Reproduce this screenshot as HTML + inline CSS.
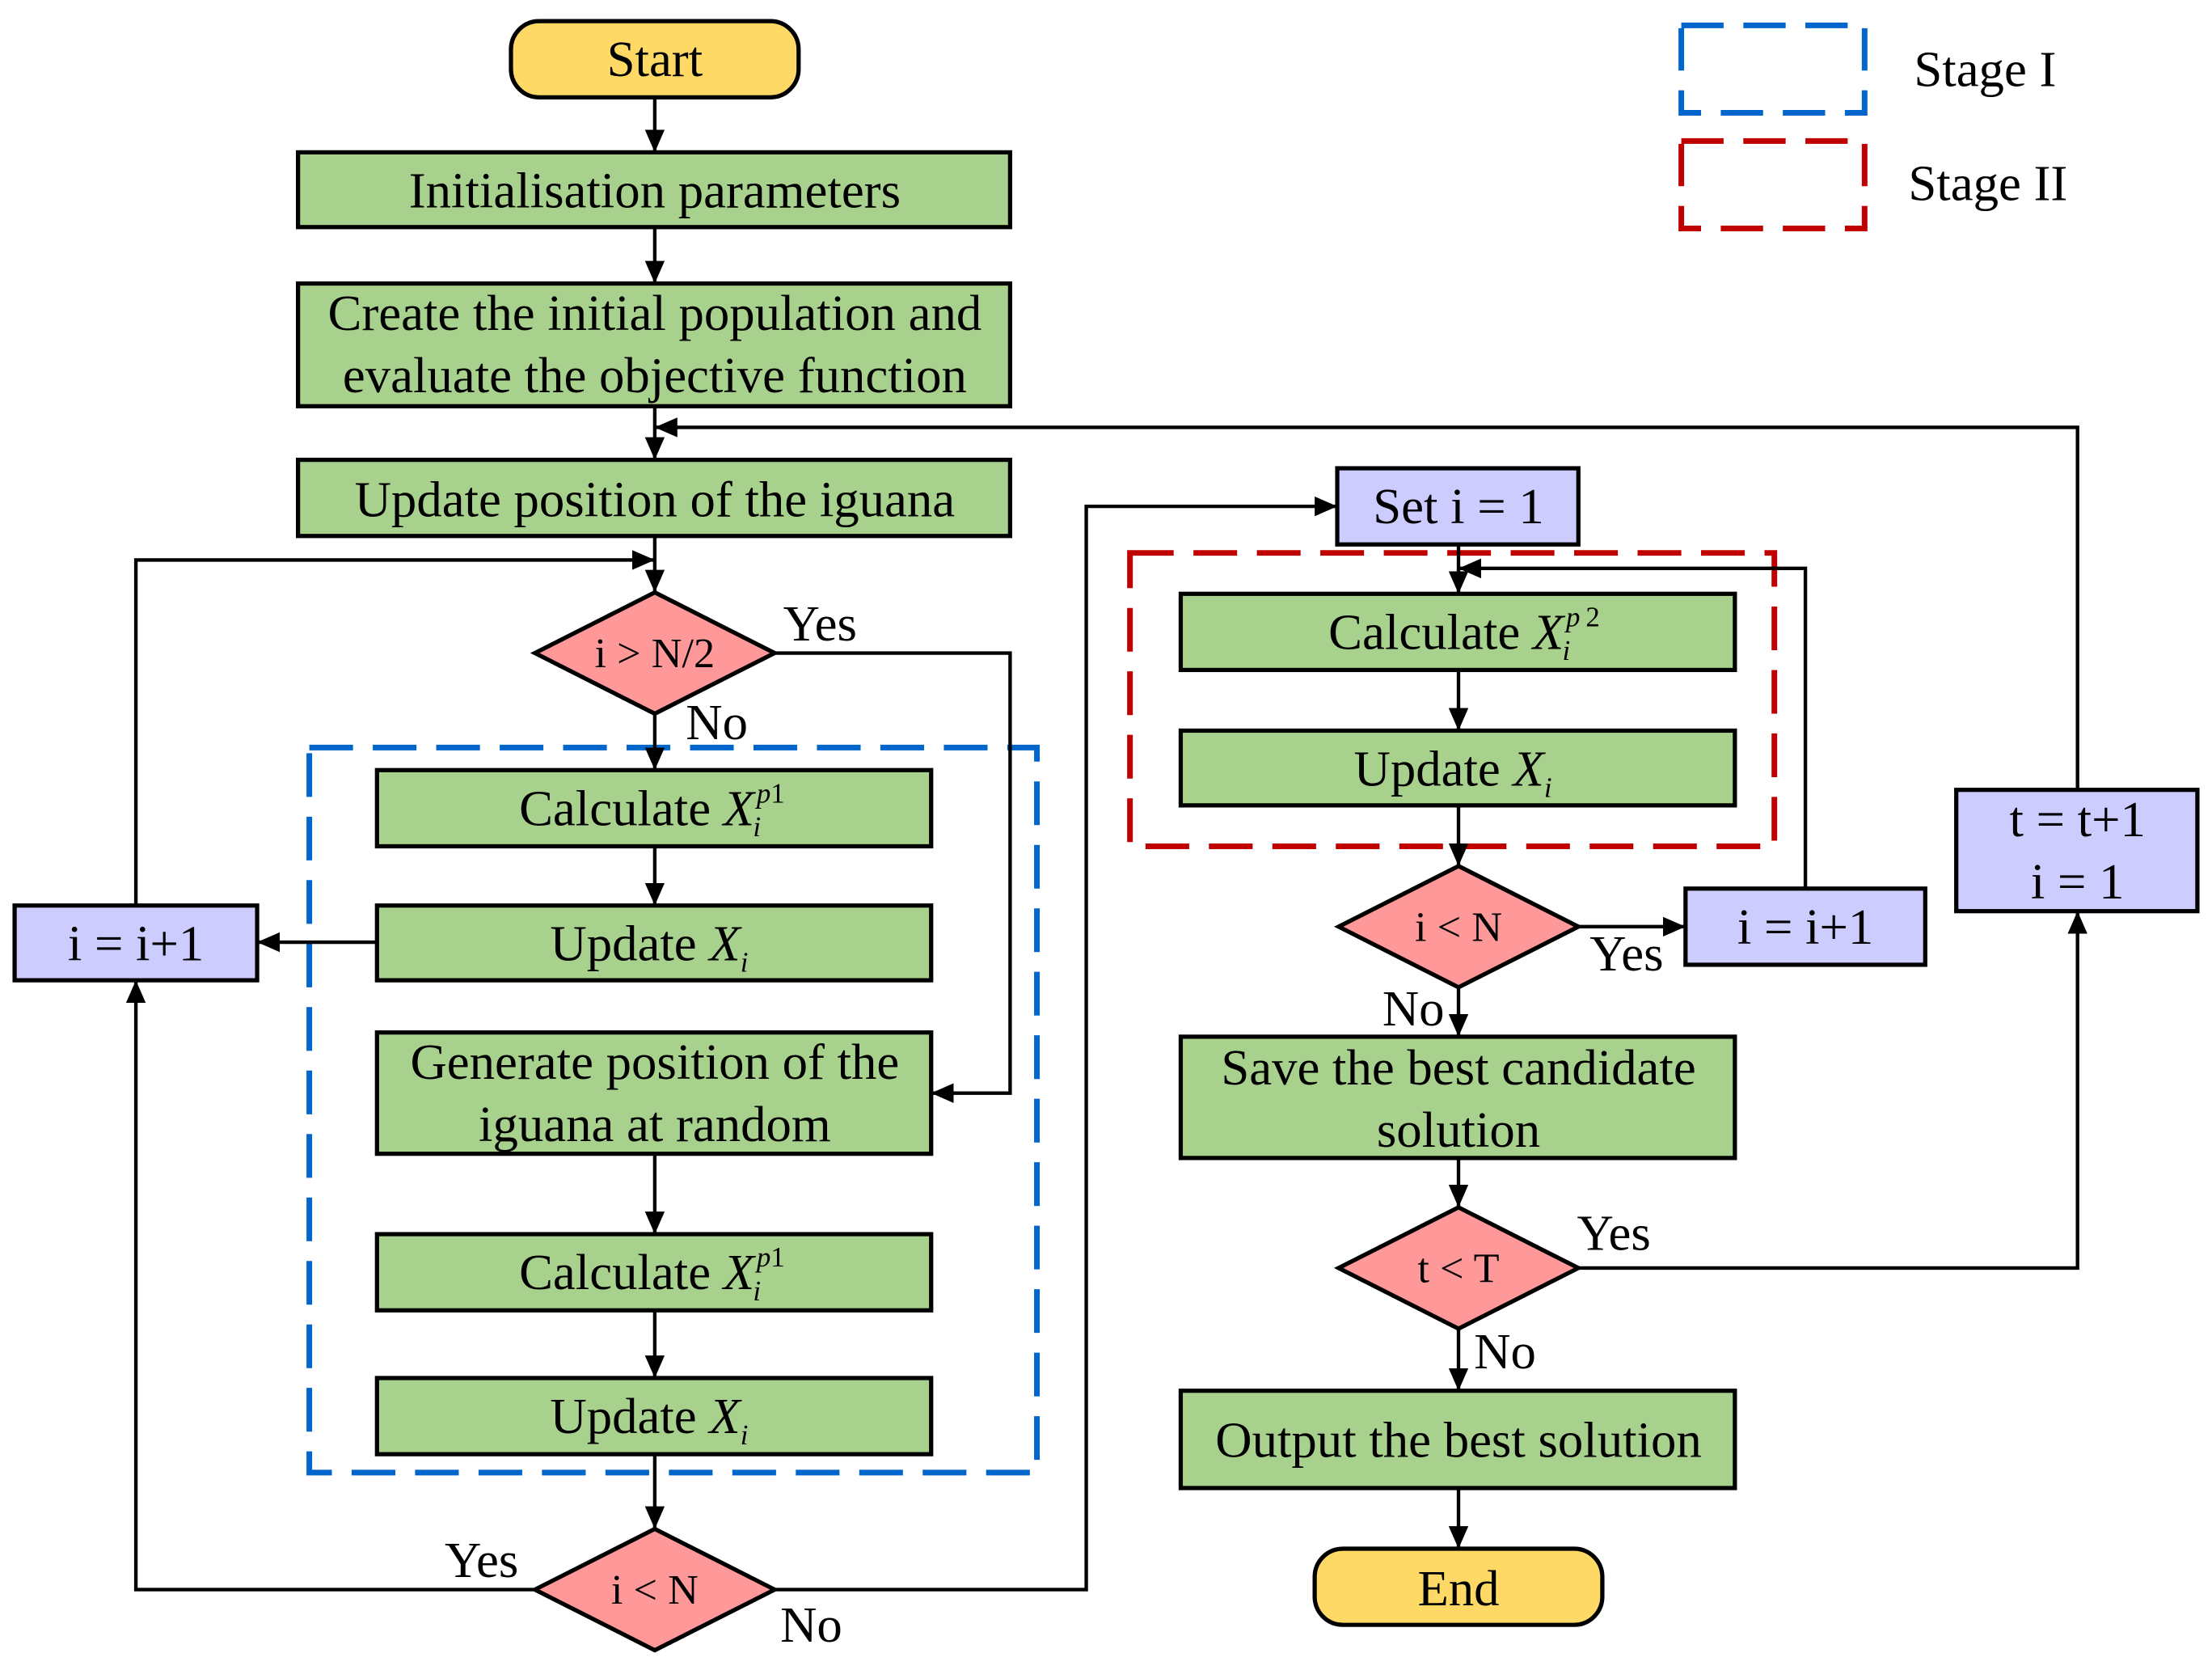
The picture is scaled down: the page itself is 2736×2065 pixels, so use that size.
<!DOCTYPE html>
<html><head><meta charset="utf-8"><style>
html,body{margin:0;padding:0;background:#fff;}
svg{display:block;}
text{font-family:"Liberation Serif",serif;font-size:36px;fill:#000;}
.t{text-anchor:middle;}
.b{stroke:#000;stroke-width:3;}
.g{fill:#A9D18E;}
.p{fill:#CCCCFF;}
.d{fill:#FF9999;}
.y{fill:#FFD966;}
.l{fill:none;stroke:#000;stroke-width:2.5;}
.dt{font-size:30px;text-anchor:middle;}
</style></head><body>
<svg width="2736" height="2065" viewBox="0 0 1568 1184" xmlns="http://www.w3.org/2000/svg">
<defs>
<marker id="A" markerWidth="16" markerHeight="14" refX="16" refY="7" orient="auto" markerUnits="userSpaceOnUse"><path d="M0,0 L16,7 L0,14 z" fill="#000"/></marker></defs>

<!-- legend -->
<rect x="1192" y="18" width="130" height="62" fill="none" stroke="#0066CC" stroke-width="4" stroke-dasharray="30,14"/>
<rect x="1192" y="100" width="130" height="62" fill="none" stroke="#C00000" stroke-width="4" stroke-dasharray="30,14"/>
<text x="1357" y="61">Stage I</text>
<text x="1353" y="142">Stage II</text>

<!-- dashed groups -->
<rect x="219" y="530" width="516" height="514" fill="none" stroke="#0066CC" stroke-width="4" stroke-dasharray="31,14"/>
<rect x="801" y="392" width="457" height="208" fill="none" stroke="#C00000" stroke-width="4" stroke-dasharray="31,14"/>

<!-- connectors -->
<g class="l">
<path d="M464 69 V108" marker-end="url(#A)"/>
<path d="M464 161 V201" marker-end="url(#A)"/>
<path d="M464 288 V326" marker-end="url(#A)"/>
<path d="M464 380 V420" marker-end="url(#A)"/>
<path d="M464 506 V546" marker-end="url(#A)"/>
<path d="M464 600 V642" marker-end="url(#A)"/>
<path d="M464 818 V875" marker-end="url(#A)"/>
<path d="M464 929 V977" marker-end="url(#A)"/>
<path d="M464 1031 V1084" marker-end="url(#A)"/>
<path d="M548 463 H716 V775 H660" marker-end="url(#A)"/>
<path d="M267 668 H182" marker-end="url(#A)"/>
<path d="M378 1127 H96 V695" marker-end="url(#A)"/>
<path d="M96 642 V397 H464" marker-end="url(#A)"/>
<path d="M548 1127 H770 V359 H948" marker-end="url(#A)"/>
<path d="M1034 386 V421" marker-end="url(#A)"/>
<path d="M1034 475 V518" marker-end="url(#A)"/>
<path d="M1034 571 V614" marker-end="url(#A)"/>
<path d="M1119 657 H1195" marker-end="url(#A)"/>
<path d="M1280 630 V403 H1034" marker-end="url(#A)"/>
<path d="M1034 700 V735" marker-end="url(#A)"/>
<path d="M1034 821 V856" marker-end="url(#A)"/>
<path d="M1034 942 V986" marker-end="url(#A)"/>
<path d="M1034 1055 V1098" marker-end="url(#A)"/>
<path d="M1119 899 H1473 V646" marker-end="url(#A)"/>
<path d="M1473 560 V303 H464" marker-end="url(#A)"/>
</g>

<!-- nodes -->
<rect class="b y" x="362" y="15" width="204" height="54" rx="20"/>
<text class="t" x="464" y="54">Start</text>
<rect class="b g" x="211" y="108" width="505" height="53"/>
<text class="t" x="464" y="147">Initialisation parameters</text>
<rect class="b g" x="211" y="201" width="505" height="87"/>
<text class="t" x="464" y="234">Create the initial population and</text>
<text class="t" x="464" y="278">evaluate the objective function</text>
<rect class="b g" x="211" y="326" width="505" height="54"/>
<text class="t" x="464" y="366">Update position of the iguana</text>
<path class="b d" d="M464 420 L549 463 L464 506 L379 463 z"/>
<text class="dt" x="464" y="473">i &gt; N/2</text>
<text x="555" y="454">Yes</text>
<text x="486" y="524">No</text>

<rect class="b g" x="267" y="546" width="393" height="54"/>
<text class="t" x="462" y="585">Calculate <tspan font-style="italic">X</tspan><tspan font-style="italic" font-size="20" dx="-1" dy="8">i</tspan><tspan font-style="italic" font-size="20" dx="-3" dy="-24">p</tspan><tspan font-size="20">1</tspan></text>
<rect class="b g" x="267" y="642" width="393" height="53"/>
<text class="t" x="460" y="681">Update <tspan font-style="italic">X</tspan><tspan font-style="italic" font-size="20" dy="8">i</tspan></text>
<rect class="b g" x="267" y="732" width="393" height="86"/>
<text class="t" x="464" y="765">Generate position of the</text>
<text class="t" x="464" y="809">iguana at random</text>
<rect class="b g" x="267" y="875" width="393" height="54"/>
<text class="t" x="462" y="914">Calculate <tspan font-style="italic">X</tspan><tspan font-style="italic" font-size="20" dx="-1" dy="8">i</tspan><tspan font-style="italic" font-size="20" dx="-3" dy="-24">p</tspan><tspan font-size="20">1</tspan></text>
<rect class="b g" x="267" y="977" width="393" height="54"/>
<text class="t" x="460" y="1016">Update <tspan font-style="italic">X</tspan><tspan font-style="italic" font-size="20" dy="8">i</tspan></text>
<path class="b d" d="M464 1084 L549 1127 L464 1170 L379 1127 z"/>
<text class="dt" x="464" y="1137">i &lt; N</text>
<text x="315" y="1118">Yes</text>
<text x="553" y="1164">No</text>
<rect class="b p" x="10" y="642" width="172" height="53"/>
<text class="t" x="96" y="681">i = i+1</text>

<rect class="b p" x="948" y="332" width="171" height="54"/>
<text class="t" x="1034" y="371">Set i = 1</text>
<rect class="b g" x="837" y="421" width="393" height="54"/>
<text class="t" x="1038" y="460">Calculate <tspan font-style="italic">X</tspan><tspan font-style="italic" font-size="20" dx="-1" dy="8">i</tspan><tspan font-style="italic" font-size="20" dx="-3" dy="-24">p</tspan><tspan font-size="20" dx="4">2</tspan></text>
<rect class="b g" x="837" y="518" width="393" height="53"/>
<text class="t" x="1030" y="557">Update <tspan font-style="italic">X</tspan><tspan font-style="italic" font-size="20" dy="8">i</tspan></text>
<path class="b d" d="M1034 614 L1119 657 L1034 700 L949 657 z"/>
<text class="dt" x="1034" y="667">i &lt; N</text>
<text x="1127" y="688">Yes</text>
<text x="980" y="727">No</text>
<rect class="b p" x="1195" y="630" width="170" height="54"/>
<text class="t" x="1280" y="669">i = i+1</text>
<rect class="b g" x="837" y="735" width="393" height="86"/>
<text class="t" x="1034" y="769">Save the best candidate</text>
<text class="t" x="1034" y="813">solution</text>
<path class="b d" d="M1034 856 L1119 899 L1034 942 L949 899 z"/>
<text class="dt" x="1034" y="909">t &lt; T</text>
<text x="1118" y="886">Yes</text>
<text x="1045" y="970">No</text>
<rect class="b g" x="837" y="986" width="393" height="69"/>
<text class="t" x="1034" y="1033">Output the best solution</text>
<rect class="b y" x="932" y="1098" width="204" height="54" rx="20"/>
<text class="t" x="1034" y="1138">End</text>
<rect class="b p" x="1387" y="560" width="171" height="86"/>
<text class="t" x="1473" y="593">t = t+1</text>
<text class="t" x="1473" y="637">i = 1</text>
</svg>
</body></html>
